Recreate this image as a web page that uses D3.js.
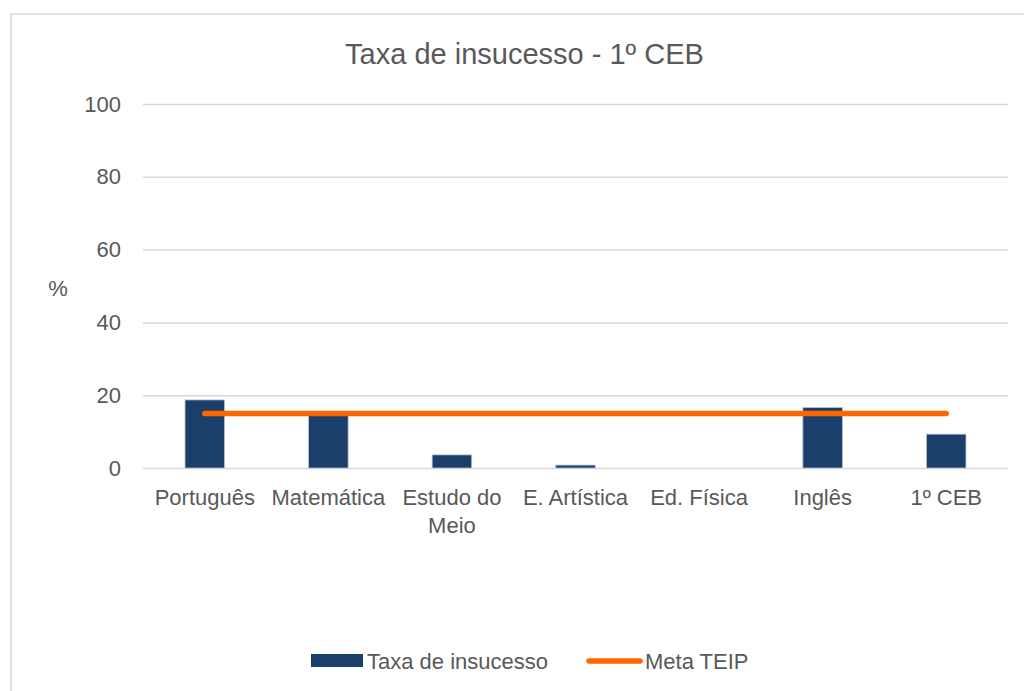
<!DOCTYPE html>
<html><head><meta charset="utf-8">
<script src="https://cdn.jsdelivr.net/npm/d3@7"></script>
<style>body{margin:0;background:#fff;}svg{display:block;font-family:"Liberation Sans",Arial,sans-serif;}</style>
</head><body>
<svg id="c" width="1024" height="691"></svg>
<script>
const categories = ["Português","Matemática","Estudo do Meio","E. Artística","Ed. Física","Inglês","1º CEB"];
const taxaInsucesso = [18.7, 14.8, 3.6, 0.8, 0, 16.6, 9.3];
const metaTEIP = [15, 15, 15, 15, 15, 15, 15];
const yTicks = [0, 20, 40, 60, 80, 100];
const seriesNames = ["Taxa de insucesso", "Meta TEIP"];
const title = "Taxa de insucesso - 1º CEB";

const svg = d3.select("#c");
const txt = "#595959", grid = "#d9d9d9", blue = "#1a3f6b", orange = "#ff6600";

svg.append("rect").attr("x",11).attr("y",14).attr("width",1030).attr("height",700)
  .attr("fill","#fff").attr("stroke",grid).attr("stroke-width",1.5);

const m = {l:143, r:1008, t:104, b:468};
const x = d3.scaleBand().domain(categories).range([m.l, m.r]).paddingInner(0.68).paddingOuter(0.34);
const y = d3.scaleLinear().domain([0,100]).range([m.b, m.t]);

svg.append("text").attr("x",524.5).attr("y",64).attr("text-anchor","middle")
  .attr("font-size",29).attr("fill",txt).text(title);

// gridlines
const ya = svg.append("g").attr("transform",`translate(${m.l},0)`)
  .call(d3.axisLeft(y).tickValues(yTicks).tickSize(-(m.r-m.l)).tickPadding(22).tickFormat(d3.format("d")));
ya.select(".domain").remove();
ya.selectAll(".tick line").attr("stroke",grid).attr("stroke-width",1.5);
ya.selectAll(".tick text").attr("font-size",22).attr("fill",txt).attr("font-family","inherit");

svg.append("text").attr("x",58).attr("y",296).attr("text-anchor","middle")
  .attr("font-size",22).attr("fill",txt).text("%");

// x labels
const xa = svg.append("g").attr("transform",`translate(0,${m.b})`)
  .call(d3.axisBottom(x).tickSize(0).tickPadding(0));
xa.select(".domain").remove();
xa.selectAll(".tick text").attr("font-size",22).attr("fill",txt).attr("font-family","inherit").attr("dy",null).attr("y",37)
  .each(function(d){
    const t = d3.select(this);
    const words = d.split(" ");
    t.text(null);
    let line = [], lines = [];
    let ts = t.append("tspan").attr("x",0);
    words.forEach(w=>{
      line.push(w); ts.text(line.join(" "));
      if (ts.node().getComputedTextLength() > x.step()-4 && line.length>1){
        line.pop(); ts.text(line.join(" ")); lines.push(ts);
        line=[w]; ts = t.append("tspan").attr("x",0).attr("dy",27.5).text(w);
      }
    });
  });

// bars
svg.append("g").selectAll("rect").data(categories).join("rect")
  .attr("x",d=>x(d)).attr("width",x.bandwidth())
  .attr("y",(d,i)=>y(taxaInsucesso[i])).attr("height",(d,i)=>y(0)-y(taxaInsucesso[i]))
  .attr("fill",blue).attr("stroke","#b4c3d6").attr("stroke-width",0.8);

// line
const line = d3.line().x((d,i)=>x(categories[i])+x.bandwidth()/2).y(d=>y(d));
svg.append("path").datum(metaTEIP).attr("d",line).attr("fill","none")
  .attr("stroke",orange).attr("stroke-width",5.5).attr("stroke-linecap","round");

// legend
const lg = svg.append("g");
lg.append("rect").attr("x",311).attr("y",654).attr("width",52).attr("height",13).attr("fill",blue);
lg.append("text").attr("x",367).attr("y",669).attr("font-size",22).attr("fill",txt).text(seriesNames[0]);
lg.append("line").attr("x1",589).attr("x2",640).attr("y1",661).attr("y2",661)
  .attr("stroke",orange).attr("stroke-width",5.5).attr("stroke-linecap","round");
lg.append("text").attr("x",645).attr("y",669).attr("font-size",22).attr("fill",txt).text(seriesNames[1]);
</script>
</body></html>
